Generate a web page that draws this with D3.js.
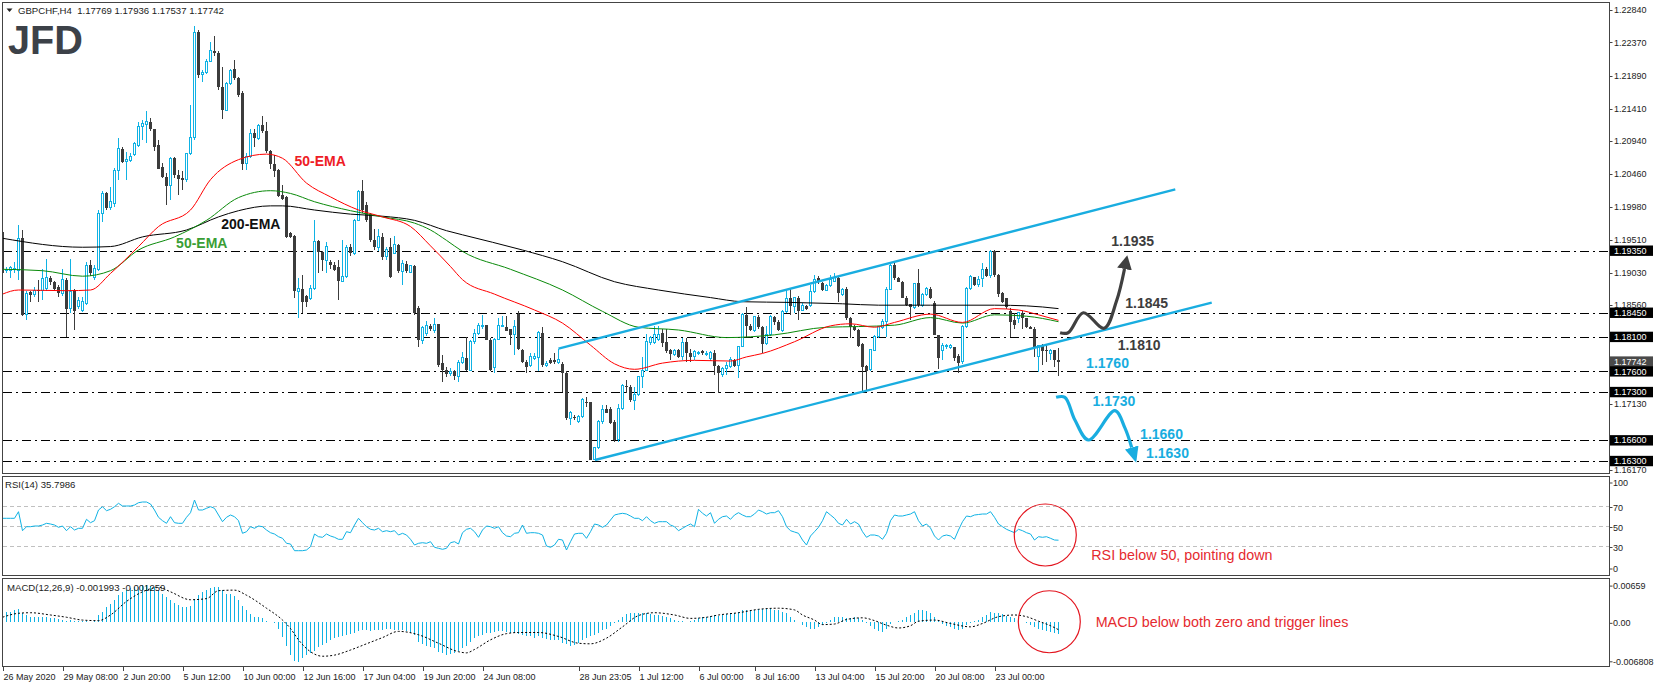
<!DOCTYPE html>
<html><head><meta charset="utf-8">
<script src="https://cdn.jsdelivr.net/npm/d3@7/dist/d3.min.js"></script>
<style>
body{margin:0;background:#fff;}
svg{display:block;font-family:"Liberation Sans",Arial,sans-serif;}
</style></head><body>
<svg id="chart" width="1655" height="688"></svg>
<script>
// ---------------- DATA ----------------
const symbolTitle = "GBPCHF,H4  1.17769 1.17936 1.17537 1.17742";
const opens = [
1.1962,1.1908,1.1906,1.1909,1.1907,1.1953,1.1843,1.1875,1.1871,1.1878,
1.1878,1.1880,1.1896,1.1889,1.1882,1.1873,1.1893,1.1851,1.1878,1.1854,
1.1849,1.1859,1.1914,1.1896,1.1908,1.1989,1.2018,1.1997,1.2004,1.2052,
1.2083,1.2064,1.2066,1.2074,1.2088,1.2115,1.2118,1.2122,1.2111,1.2088,
1.2056,1.2042,1.2029,1.2069,1.2045,1.2040,1.2038,1.2076,1.2099,1.2252,
1.2190,1.2193,1.2210,1.2225,1.2222,1.2173,1.2139,1.2178,1.2199,1.2185,
1.2164,1.2061,1.2071,1.2106,1.2098,1.2117,1.2108,1.2080,1.2061,1.2052,
1.2016,1.2013,1.1960,1.1956,1.1876,1.1880,1.1869,1.1866,1.1880,1.1949,
1.1933,1.1921,1.1918,1.1914,1.1911,1.1891,1.1898,1.1940,1.1931,1.1979,
1.2021,1.2001,1.1988,1.1951,1.1940,1.1955,1.1926,1.1941,1.1931,1.1943,
1.1905,1.1916,1.1904,1.1913,1.1852,1.1805,1.1815,1.1826,1.1820,1.1828,
1.1772,1.1762,1.1757,1.1760,1.1753,1.1773,1.1780,1.1762,1.1803,1.1815,
1.1825,1.1827,1.1806,1.1766,1.1806,1.1825,1.1825,1.1821,1.1813,1.1843,
1.1791,1.1774,1.1768,1.1779,1.1780,1.1816,1.1769,1.1776,1.1776,1.1773,
1.1771,1.1758,1.1692,1.1694,1.1687,1.1695,1.1716,1.1716,1.1632,1.1649,
1.1687,1.1705,1.1706,1.1687,1.1661,1.1706,1.1739,1.1738,1.1718,1.1727,
1.1752,1.1762,1.1802,1.1802,1.1806,1.1815,1.1802,1.1791,1.1785,1.1791,
1.1781,1.1802,1.1787,1.1781,1.1787,1.1789,1.1786,1.1778,1.1787,1.1768,
1.1755,1.1764,1.1767,1.1776,1.1769,1.1796,1.1842,1.1826,1.1819,1.1839,
1.1825,1.1800,1.1813,1.1839,1.1832,1.1820,1.1847,1.1866,1.1854,1.1867,
1.1849,1.1855,1.1855,1.1876,1.1895,1.1888,1.1878,1.1884,1.1891,1.1896,
1.1871,1.1880,1.1837,1.1825,1.1820,1.1799,1.1768,1.1763,1.1791,1.1810,
1.1824,1.1832,1.1879,1.1914,1.1895,1.1890,1.1867,1.1857,1.1852,1.1888,
1.1855,1.1871,1.1880,1.1859,1.1813,1.1790,1.1797,1.1795,1.1795,1.1783,
1.1774,1.1825,1.1880,1.1897,1.1886,1.1895,1.1908,1.1899,1.1934,1.1900,
1.1874,1.1866,1.1847,1.1834,1.1837,1.1844,1.1837,1.1825,1.1822,1.1781,
1.1798,1.1791,1.1786,1.1791,1.17769];
const highs = [
1.1964,1.1912,1.1913,1.1919,1.1972,1.1965,1.1876,1.1876,1.1883,1.1892,
1.1908,1.1923,1.1899,1.1891,1.1885,1.1908,1.1895,1.1923,1.1880,1.1868,
1.1868,1.1919,1.1921,1.1914,1.1994,1.2021,1.2020,1.2028,1.2055,1.2098,
1.2086,1.2078,1.2076,1.2092,1.2122,1.2125,1.2137,1.2128,1.2111,1.2095,
1.2062,1.2047,1.2071,1.2071,1.2052,1.2050,1.2077,1.2146,1.2261,1.2255,
1.2197,1.2213,1.2237,1.2246,1.2224,1.2202,1.2180,1.2198,1.2211,1.2187,
1.2166,1.2077,1.2112,1.2112,1.2119,1.2130,1.2122,1.2081,1.2074,1.2053,
1.2030,1.2014,1.1962,1.1958,1.1896,1.1900,1.1871,1.1885,1.1979,1.1951,
1.1935,1.1948,1.1921,1.1918,1.1921,1.1951,1.1943,1.1945,1.1981,1.2023,
1.2038,1.2006,1.1990,1.1967,1.1967,1.1960,1.1940,1.1953,1.1956,1.1945,
1.1922,1.1920,1.1914,1.1914,1.1855,1.1826,1.1833,1.1829,1.1838,1.1828,
1.1784,1.1766,1.1765,1.1762,1.1776,1.1788,1.1810,1.1805,1.1822,1.1830,
1.1842,1.1827,1.1808,1.1808,1.1838,1.1840,1.1840,1.1822,1.1834,1.1848,
1.1793,1.1776,1.1786,1.1786,1.1819,1.1824,1.1775,1.1780,1.1786,1.1793,
1.1773,1.1760,1.1702,1.1697,1.1697,1.1721,1.1723,1.1716,1.1651,1.1689,
1.1711,1.1711,1.1708,1.1690,1.1712,1.1742,1.1748,1.1740,1.1738,1.1754,
1.1781,1.1814,1.1812,1.1826,1.1826,1.1821,1.1822,1.1793,1.1793,1.1793,
1.1808,1.1808,1.1793,1.1791,1.1790,1.1791,1.1789,1.1790,1.1791,1.1769,
1.1767,1.1774,1.1781,1.1778,1.1797,1.1845,1.1853,1.1828,1.1841,1.1842,
1.1826,1.1826,1.1842,1.1840,1.1834,1.1849,1.1880,1.1879,1.1868,1.1869,
1.1859,1.1856,1.1885,1.1900,1.1898,1.1889,1.1886,1.1900,1.1902,1.1898,
1.1881,1.1882,1.1839,1.1827,1.1821,1.1801,1.1769,1.1793,1.1813,1.1826,
1.1836,1.1883,1.1917,1.1917,1.1897,1.1891,1.1869,1.1858,1.1888,1.1908,
1.1873,1.1883,1.1882,1.1862,1.1813,1.1801,1.1800,1.1800,1.1796,1.1785,
1.1827,1.1882,1.1900,1.1897,1.1898,1.1917,1.1912,1.1936,1.1936,1.1901,
1.1875,1.1867,1.1852,1.1844,1.1846,1.1847,1.1838,1.1826,1.1825,1.1798,
1.1800,1.1798,1.1793,1.1791,1.17936];
const lows = [
1.1900,1.1902,1.1896,1.1902,1.1893,1.1840,1.1834,1.1861,1.1868,1.1861,
1.1864,1.1876,1.1885,1.1878,1.1868,1.1869,1.1810,1.1844,1.1820,1.1850,
1.1846,1.1856,1.1898,1.1893,1.1905,1.1977,1.1994,1.1994,1.1999,1.2038,
1.2062,1.2038,1.2063,1.2072,1.2086,1.2095,1.2091,1.2109,1.2080,1.2053,
1.2041,1.2001,1.2008,1.2040,1.2016,1.2023,1.2034,1.2074,1.2095,1.2185,
1.2180,1.2191,1.2208,1.2218,1.2168,1.2126,1.2137,1.2175,1.2183,1.2158,
1.2052,1.2052,1.2069,1.2086,1.2096,1.2105,1.2076,1.2054,1.2042,1.2013,
1.2008,1.1953,1.1953,1.1866,1.1837,1.1844,1.1854,1.1863,1.1878,1.1902,
1.1905,1.1902,1.1908,1.1906,1.1863,1.1890,1.1896,1.1928,1.1929,1.1978,
1.1989,1.1977,1.1948,1.1936,1.1935,1.1922,1.1922,1.1895,1.1930,1.1902,
1.1885,1.1903,1.1902,1.1842,1.1795,1.1800,1.1812,1.1818,1.1815,1.1767,
1.1745,1.1752,1.1754,1.1748,1.1745,1.1771,1.1760,1.1760,1.1800,1.1813,
1.1822,1.1805,1.1760,1.1757,1.1805,1.1824,1.1818,1.1798,1.1784,1.1791,
1.1772,1.1758,1.1767,1.1776,1.1761,1.1767,1.1766,1.1770,1.1770,1.1770,
1.1730,1.1690,1.1682,1.1690,1.1685,1.1692,1.1709,1.1631,1.1631,1.1647,
1.1684,1.1699,1.1683,1.1657,1.1657,1.1704,1.1728,1.1716,1.1704,1.1725,
1.1736,1.1760,1.1798,1.1800,1.1804,1.1796,1.1786,1.1777,1.1783,1.1779,
1.1776,1.1773,1.1774,1.1776,1.1784,1.1784,1.1783,1.1775,1.1755,1.1728,
1.1752,1.1755,1.1765,1.1767,1.1750,1.1795,1.1810,1.1818,1.1817,1.1822,
1.1786,1.1798,1.1811,1.1827,1.1819,1.1817,1.1845,1.1842,1.1844,1.1835,
1.1848,1.1849,1.1853,1.1873,1.1887,1.1877,1.1876,1.1883,1.1890,1.1861,
1.1869,1.1835,1.1809,1.1818,1.1795,1.1728,1.1733,1.1760,1.1790,1.1809,
1.1822,1.1810,1.1878,1.1893,1.1889,1.1866,1.1855,1.1835,1.1851,1.1853,
1.1853,1.1869,1.1865,1.1813,1.1764,1.1777,1.1793,1.1792,1.1775,1.1758,
1.1771,1.1823,1.1878,1.1884,1.1883,1.1883,1.1897,1.1896,1.1897,1.1868,
1.1859,1.1851,1.1810,1.1822,1.1830,1.1822,1.1823,1.1821,1.1781,1.1759,
1.1769,1.1774,1.1776,1.1767,1.17537];
const closes = [
1.1902,1.1908,1.1910,1.1909,1.1953,1.1842,1.1873,1.1871,1.1878,1.1877,
1.1894,1.1896,1.1889,1.1880,1.1873,1.1893,1.1851,1.1876,1.1847,1.1863,
1.1861,1.1914,1.1902,1.1909,1.1989,1.2018,1.1997,1.2006,1.2052,1.2083,
1.2064,1.2067,1.2072,1.2090,1.2115,1.2119,1.2122,1.2111,1.2086,1.2054,
1.2042,1.2029,1.2069,1.2045,1.2039,1.2038,1.2076,1.2099,1.2251,1.2190,
1.2193,1.2210,1.2226,1.2221,1.2173,1.2139,1.2178,1.2197,1.2185,1.2161,
1.2061,1.2071,1.2105,1.2098,1.2116,1.2108,1.2080,1.2061,1.2051,1.2014,
1.2010,1.1955,1.1955,1.1876,1.1880,1.1861,1.1861,1.1880,1.1949,1.1933,
1.1921,1.1941,1.1914,1.1907,1.1891,1.1898,1.1940,1.1931,1.1979,1.2021,
1.1994,1.1979,1.1950,1.1941,1.1955,1.1926,1.1937,1.1897,1.1944,1.1905,
1.1916,1.1905,1.1913,1.1844,1.1805,1.1823,1.1826,1.1822,1.1828,1.1769,
1.1762,1.1756,1.1760,1.1753,1.1773,1.1780,1.1762,1.1803,1.1815,1.1826,
1.1827,1.1806,1.1762,1.1806,1.1826,1.1827,1.1819,1.1813,1.1825,1.1792,
1.1773,1.1767,1.1781,1.1782,1.1816,1.1769,1.1772,1.1772,1.1773,1.1777,
1.1757,1.1693,1.1700,1.1692,1.1695,1.1719,1.1715,1.1632,1.1649,1.1687,
1.1705,1.1700,1.1685,1.1661,1.1706,1.1739,1.1737,1.1718,1.1727,1.1752,
1.1762,1.1803,1.1809,1.1813,1.1813,1.1801,1.1789,1.1785,1.1791,1.1781,
1.1802,1.1787,1.1781,1.1789,1.1788,1.1786,1.1786,1.1787,1.1768,1.1757,
1.1764,1.1768,1.1777,1.1768,1.1796,1.1842,1.1826,1.1820,1.1839,1.1825,
1.1800,1.1814,1.1839,1.1832,1.1820,1.1847,1.1866,1.1855,1.1867,1.1848,
1.1855,1.1850,1.1876,1.1893,1.1889,1.1878,1.1884,1.1893,1.1896,1.1873,
1.1879,1.1837,1.1825,1.1820,1.1797,1.1767,1.1761,1.1792,1.1810,1.1825,
1.1832,1.1879,1.1914,1.1895,1.1890,1.1866,1.1856,1.1853,1.1887,1.1856,
1.1871,1.1880,1.1867,1.1813,1.1779,1.1797,1.1797,1.1798,1.1780,1.1772,
1.1825,1.1880,1.1897,1.1885,1.1893,1.1908,1.1899,1.1934,1.1900,1.1872,
1.1861,1.1854,1.1832,1.1827,1.1845,1.1837,1.1825,1.1822,1.1796,1.1797,
1.1790,1.1789,1.1791,1.1776,1.17742];

// moving averages ([bar index, value])
const ema50Red = [[0,1.1872],[4,1.1878],[16,1.1877],[22,1.1878],[27,1.1902],[34,1.1941],[39,1.1970],[47,1.1994],[52,1.2038],[59,1.2067],[66,1.2075],[70,1.2069],[76,1.2033],[82,1.2013],[89,1.1994],[95,1.1984],[102,1.1970],[107,1.1942],[112,1.1912],[115,1.1893],[123,1.1872],[133,1.1849],[140,1.1830],[147,1.1798],[153,1.1771],[158,1.1763],[165,1.1772],[173,1.1776],[182,1.1775],[186,1.1781],[190,1.1786],[198,1.1803],[207,1.1826],[212,1.1829],[218,1.1824],[223,1.1831],[232,1.1843],[240,1.1831],[248,1.1851],[254,1.1849],[259,1.1842],[264,1.1834]];
const emaGreen = [[0,1.1908],[10,1.1906],[20,1.1898],[27,1.1906],[34,1.1936],[43,1.1955],[51,1.1979],[59,1.2012],[67,1.2022],[72,1.2018],[78,1.2006],[87,1.1993],[95,1.1984],[103,1.1975],[107,1.1965],[111,1.1950],[115,1.1934],[127,1.1908],[140,1.1878],[150,1.1847],[159,1.1824],[169,1.1820],[181,1.1809],[193,1.1813],[206,1.1824],[214,1.1825],[223,1.1827],[232,1.1838],[240,1.1830],[248,1.1842],[256,1.1840],[264,1.1832]];
const ema200 = [[0,1.1953],[20,1.1940],[27,1.1941],[35,1.1955],[46,1.1965],[54,1.1984],[59,1.1993],[67,1.2000],[70,1.2000],[78,1.1994],[87,1.1988],[95,1.1985],[103,1.1979],[111,1.1964],[115,1.1958],[130,1.1936],[140,1.1919],[153,1.1890],[164,1.1878],[177,1.1867],[185,1.1861],[197,1.1860],[210,1.1858],[219,1.1856],[232,1.1856],[248,1.1856],[256,1.1855],[264,1.1851]];

const rsi = [
57.7,57.7,57.7,57.7,64.3,45.3,49.3,49.3,50,50,
51,52.7,52,51,48.7,50,45.3,49.3,46,47.7,
47.7,56.7,53.3,55.3,66,69.3,65.3,66.7,69.3,72.7,
70,70,70,71,73.3,74,74,72,66,58.7,
55.3,52.7,59.3,53.3,52.7,52.7,58.7,63.3,76,66,
66,67.7,69.3,67.7,61,54.3,58.7,61,59.3,55.3,
42.7,44.3,49.3,47.7,50,49.3,46,43.3,42,39.3,
37.7,32.7,32,25.3,25.3,25.3,26,29.3,42,39.3,
38.7,42,40,38.7,36.7,36.7,44.3,43.3,51,57.7,
53.3,49.3,46.7,46,47.7,44.3,45.3,44.3,45.3,41,
42.7,41,36.7,31,32.7,33.3,32.7,34.3,28.7,27.7,
26.7,27.7,33.3,34.3,32,43.3,46.7,47.7,44.3,38.7,
46,50,49.3,47.7,49.3,43.3,40,39.3,42.7,43.3,
51,42.7,43.3,43.3,42.7,41,30,28.7,31,36.7,
36,26,34.3,42,42.7,42.7,37.7,44.3,52,51,
48.7,51,56,61,62,62.7,62,60,57.7,57.7,
55.3,59.3,55.3,52.7,54.3,54.3,54.3,51,49.3,45.3,
47.7,50,52,49.3,66.7,62.7,60,63.3,52.7,56.7,
59.3,60,56.7,61,63.3,61,59.3,59.3,62,66,
64.3,62,63.3,63.3,65.3,59.3,49.3,45.3,44,42.7,
36,31,40,44.3,48.7,55.3,64.3,61,57.7,52.7,
51,56.7,52,54.3,52,44.3,38.7,41,41,40,
36.7,42.7,55.3,61,60,60,61,62,64.3,55.3,
50,52,48,40,36,40,41,40,36.7,46,
54.3,60,59.3,61,61.5,62,62,64.3,58.7,52,
49.3,46.7,45,43.3,46.7,45.3,43.3,42,36,39.3,
38.7,39.3,37.7,36,35.8];
const rsiLevels = [70,50,30];

const macdHist = [
.0019,.0019,.0019,.0022,.0024,.0017,.0013,.0009,.0009,.0009,
.0009,.0010,.0007,.0007,.0006,.0005,.0003,.0004,.0003,.0003,
.0003,.0002,.0001,.0002,.0013,.0019,.0027,.0032,.0040,.0048,
.0053,.0057,.0060,.0062,.0063,.0066,.0066,.0064,.0062,.0058,
.0051,.0045,.0040,.0035,.0031,.0028,.0027,.0029,.0042,.0048,
.0054,.0058,.0060,.0062,.0062,.0058,.0051,.0050,.0047,.0040,
.0029,.0022,.0015,.0010,.0009,.0007,.0003,.0001,-.0002,-.0012,
-.0026,-.0042,-.0058,-.0068,-.0070,-.0064,-.0058,-.0054,-.0050,-.0044,
-.0040,-.0036,-.0031,-.0027,-.0026,-.0024,-.0022,-.0021,-.0019,-.0016,
-.0014,-.0014,-.0015,-.0014,-.0013,-.0013,-.0012,-.0012,-.0013,-.0014,
-.0014,-.0015,-.0018,-.0022,-.0034,-.0038,-.0042,-.0044,-.0046,-.0052,
-.0055,-.0058,-.0056,-.0054,-.0050,-.0046,-.0042,-.0034,-.0028,-.0025,
-.0022,-.0019,-.0018,-.0017,-.0015,-.0015,-.0017,-.0018,-.0019,-.0021,
-.0022,-.0024,-.0025,-.0027,-.0025,-.0028,-.0030,-.0031,-.0031,-.0032,
-.0036,-.0038,-.0042,-.0040,-.0036,-.0032,-.0028,-.0025,-.0022,-.0018,
-.0014,-.0011,-.0006,-.0002,.0004,.0010,.0015,.0016,.0017,.0017,
.0016,.0016,.0015,.0013,.0013,.0011,.0010,.0007,.0004,.0003,
.0003,.0001,.0003,.0004,.0007,.0009,.0010,.0011,.0013,.0011,
.0013,.0015,.0016,.0017,.0019,.0021,.0022,.0022,.0022,.0023,
.0023,.0023,.0023,.0022,.0022,.0019,.0016,.0010,.0005,.0001,
-.0005,-.0008,-.0011,-.0012,-.0009,-.0005,-.0001,.0005,.0009,.0009,
.0009,.0007,.0007,.0010,.0007,.0004,-.0001,-.0006,-.0011,-.0015,
-.0017,-.0011,-.0003,.0001,.0003,.0005,.0009,.0013,.0017,.0021,
.0021,.0020,.0016,.0010,.0003,-.0003,-.0006,-.0008,-.0012,-.0014,
-.0011,-.0005,-.0001,.0003,.0005,.0010,.0013,.0019,.0017,.0017,
.0015,.0011,.0009,.0007,.0004,.0001,-.0002,-.0005,-.0008,-.0012,
-.0014,-.0015,-.0017,-.0018,-.0020];
const macdSignal = [[0,.0009],[4,.0016],[7,.0017],[12,.0013],[16,.0009],[20,.0004],[24,.0003],[27,.0013],[31,.0037],[35,.0054],[39,.0062],[42,.0054],[47,.0040],[51,.0042],[54,.0056],[58,.0057],[61,.0048],[66,.0025],[70,.0004],[72,-.0011],[74,-.0031],[77,-.0052],[80,-.0060],[83,-.0058],[87,-.0049],[91,-.0038],[95,-.0027],[99,-.0016],[104,-.0022],[109,-.0037],[114,-.0052],[116,-.0054],[118,-.0048],[122,-.0031],[126,-.0020],[129,-.0018],[134,-.0018],[139,-.0025],[144,-.0037],[147,-.0038],[151,-.0028],[155,-.0008],[159,.0012],[163,.0017],[168,.0013],[172,.0007],[176,.0009],[179,.0013],[184,.0017],[189,.0023],[194,.0025],[198,.0022],[200,.0013],[203,.0004],[205,-.0004],[208,-.0003],[211,.0005],[215,.0008],[218,.0003],[221,-.0005],[224,-.0010],[227,-.0006],[229,.0002],[233,.0004],[237,-.0002],[242,-.0008],[245,-.0002],[249,.0010],[253,.0013],[256,.0010],[259,.0002],[262,-.0006],[264,-.0013]];

// visible price-axis ticks (the ones under the level boxes are hidden in the original)
const priceTicks = [1.22840,1.22370,1.21890,1.21410,1.20940,1.20460,1.19980,1.19510,1.19030,1.18560,1.17130,1.16170];
const levelPrices = [1.1935,1.1845,1.1810,1.1760,1.1730,1.1660,1.1630];
const lastPrice = 1.17742;
const timeIdx = [0,15,30,45,60,75,90,105,120,144,159,174,188,203,218,233,248];
const timeLabels = ["26 May 2020","29 May 08:00","2 Jun 20:00","5 Jun 12:00","10 Jun 00:00","12 Jun 16:00","17 Jun 04:00","19 Jun 20:00","24 Jun 08:00","28 Jun 23:05","1 Jul 12:00","6 Jul 00:00","8 Jul 16:00","13 Jul 04:00","15 Jul 20:00","20 Jul 08:00","23 Jul 00:00"];
const rsiAxis = [100,70,50,30,0];
const macdAxis = [0.00659,0,-0.006808];
const macdAxisText = ["0.00659","0.00","-0.006808"];

// channel & annotation anchors: [bar index, price]
const channelUpper = [[139,1.1793],[293.2,1.2024]];
const channelLower = [[148.1,1.16315],[302.3,1.18596]];
const upArrow = [[264.4,1.1816],[266.4,1.1816],[270.2,1.1845],[275.4,1.18225],[278.5,1.1862],[280.5,1.19085]];
const downArrow = [[263.4,1.17224],[265.6,1.17224],[268.1,1.16895],[271.5,1.16605],[278.1,1.1703],[280.6,1.1678],[282.3,1.16496]];
const levelNotes = [
 {t:"1.1935",i:277.2,p:1.19495,dark:true},
 {t:"1.1845",i:280.7,p:1.18587,dark:true},
 {t:"1.1810",i:278.8,p:1.17982,dark:true},
 {t:"1.1760",i:270.9,p:1.17726,dark:false},
 {t:"1.1730",i:272.5,p:1.17170,dark:false},
 {t:"1.1660",i:284.4,p:1.16687,dark:false},
 {t:"1.1630",i:285.9,p:1.16412,dark:false}];
const emaNotes = [
 {t:"50-EMA",i:73,p:1.20655,c:"#ee1c25"},
 {t:"200-EMA",i:54.7,p:1.19737,c:"#111111"},
 {t:"50-EMA",i:43.4,p:1.19457,c:"#3a9e36"}];

// ---------------- SCALES ----------------
const BULL="#0fb2e4", BEAR="#3c3c3c", CYAN="#19ade0";
const svg = d3.select("#chart");
const x = d3.scaleLinear().domain([0,1]).range([2.5,6.5]);
const y = d3.scaleLinear().domain([1.2284,1.1617]).range([10,470]);
const yR = d3.scaleLinear().domain([100,0]).range([476,576]);
const yM = d3.scaleLinear().domain([0.00659,-0.006808]).range([585.1,660.8]);
const L=2.5, R=1609.5;

const defs = svg.append("defs");
defs.append("clipPath").attr("id","cm").append("rect").attr("x",3).attr("y",3).attr("width",1606).attr("height",470);
defs.append("clipPath").attr("id","cr").append("rect").attr("x",3).attr("y",477).attr("width",1606).attr("height",98);
defs.append("clipPath").attr("id","cq").append("rect").attr("x",3).attr("y",579).attr("width",1606).attr("height",87);
function marker(id,col,len,wid){
  defs.append("marker").attr("id",id).attr("viewBox","0 0 10 10").attr("refX",0).attr("refY",5)
    .attr("markerWidth",len).attr("markerHeight",wid).attr("markerUnits","userSpaceOnUse")
    .attr("orient","auto").attr("preserveAspectRatio","none")
    .append("path").attr("d","M0,0L10,5L0,10z").attr("fill",col);
}
marker("mg","#404040",14,15);
marker("mc",CYAN,16,14);

svg.append("rect").attr("width",1655).attr("height",688).attr("fill","#fff");

// ---------------- MAIN PANEL ----------------
const gM = svg.append("g").attr("clip-path","url(#cm)");
gM.selectAll("line.lvl").data(levelPrices).join("line")
  .attr("x1",3).attr("x2",1609).attr("y1",d=>Math.round(y(d))+0.5).attr("y2",d=>Math.round(y(d))+0.5)
  .attr("stroke","#000").attr("stroke-width",1).attr("stroke-dasharray","9,4,2,4");

const idx = d3.range(opens.length);
const cg = gM.append("g").attr("shape-rendering","crispEdges");
cg.selectAll("line").data(idx).join("line")
  .attr("x1",i=>x(i)).attr("x2",i=>x(i))
  .attr("y1",i=>y(highs[i])).attr("y2",i=>y(lows[i]))
  .attr("stroke",i=>closes[i]>=opens[i]?BULL:BEAR);
cg.selectAll("rect").data(idx).join("rect")
  .attr("x",i=>closes[i]>=opens[i]?x(i)-1:x(i)-1.5)
  .attr("width",i=>closes[i]>=opens[i]?2:3)
  .attr("y",i=>y(Math.max(opens[i],closes[i])))
  .attr("height",i=>Math.max(1,Math.abs(y(opens[i])-y(closes[i]))))
  .attr("fill",i=>closes[i]>=opens[i]?"#fff":BEAR)
  .attr("stroke",i=>closes[i]>=opens[i]?BULL:"none");

const lineP = d3.line().x(d=>x(d[0])).y(d=>y(d[1])).curve(d3.curveMonotoneX);
[[ema200,"#000"],[emaGreen,"#0a8a0a"],[ema50Red,"#ff0000"]].forEach(([d,c])=>{
  gM.append("path").attr("d",lineP(d)).attr("fill","none").attr("stroke",c).attr("stroke-width",1);
});
const lineS = d3.line().x(d=>x(d[0])).y(d=>y(d[1]));
[channelUpper,channelLower].forEach(d=>{
  gM.append("path").attr("d",lineS(d)).attr("stroke",CYAN).attr("stroke-width",2.4).attr("fill","none");
});
const lineC = d3.line().x(d=>x(d[0])).y(d=>y(d[1])).curve(d3.curveCatmullRom.alpha(0.5));
gM.append("path").attr("d",lineC(upArrow)).attr("fill","none").attr("stroke","#404040").attr("stroke-width",3.2).attr("marker-end","url(#mg)");
gM.append("path").attr("d",lineC(downArrow)).attr("fill","none").attr("stroke",CYAN).attr("stroke-width",3.2).attr("marker-end","url(#mc)");

gM.selectAll("text.lv").data(levelNotes).join("text")
  .attr("x",d=>x(d.i)).attr("y",d=>y(d.p)).attr("dy","0.36em")
  .attr("font-size",14).attr("font-weight","bold")
  .attr("fill",d=>d.dark?"#3d3d3d":CYAN).text(d=>d.t);
gM.selectAll("text.em").data(emaNotes).join("text")
  .attr("x",d=>x(d.i)).attr("y",d=>y(d.p)).attr("dy","0.36em")
  .attr("font-size",14).attr("font-weight","bold").attr("fill",d=>d.c).text(d=>d.t);

// header + logo
svg.append("path").attr("d","M6.5,8.5L12.5,8.5L9.5,12z").attr("fill","#222");
svg.append("text").attr("x",18).attr("y",14).attr("font-size",9.6).attr("fill","#222").attr("xml:space","preserve").text(symbolTitle);
svg.append("text").attr("x",8).attr("y",53.5).attr("font-size",41).attr("font-weight","bold")
  .attr("fill","#3c4148").attr("textLength",75).attr("lengthAdjust","spacingAndGlyphs").text("JFD");

// ---------------- RSI PANEL ----------------
const gR = svg.append("g").attr("clip-path","url(#cr)");
gR.selectAll("line").data(rsiLevels).join("line")
  .attr("x1",3).attr("x2",1609).attr("y1",d=>yR(d)+0.5).attr("y2",d=>yR(d)+0.5)
  .attr("stroke","#c0c0c0").attr("stroke-dasharray","4,3");
gR.append("path").attr("d",d3.line().x((d,i)=>x(i)).y(d=>yR(d))(rsi))
  .attr("fill","none").attr("stroke",BULL).attr("stroke-width",1);
svg.append("text").attr("x",5).attr("y",488).attr("font-size",9.6).attr("fill","#222").text("RSI(14) 35.7986");

// ---------------- MACD PANEL ----------------
const gQ = svg.append("g").attr("clip-path","url(#cq)");
gQ.append("g").attr("shape-rendering","crispEdges").selectAll("rect").data(macdHist).join("rect")
  .attr("x",(d,i)=>x(i)-0.5).attr("width",1)
  .attr("y",d=>Math.min(yM(d),yM(0))).attr("height",d=>Math.max(0.5,Math.abs(yM(d)-yM(0))))
  .attr("fill",BULL);
gQ.append("path").attr("d",d3.line().x(d=>x(d[0])).y(d=>yM(d[1])).curve(d3.curveMonotoneX)(macdSignal))
  .attr("fill","none").attr("stroke","#000").attr("stroke-width",1).attr("stroke-dasharray","2,2");
svg.append("text").attr("x",7).attr("y",590.5).attr("font-size",9.6).attr("fill","#222").text("MACD(12,26,9) -0.001993 -0.001259");

// circles + notes
const circ = [{i:260.7,v:41,sc:yR},{i:261.7,v:0.0001,sc:yM}];
circ.forEach(c=>{
  svg.append("circle").attr("cx",x(c.i)).attr("cy",c.sc(c.v)).attr("r",31)
    .attr("fill","none").attr("stroke","#e3141e").attr("stroke-width",1.2);
});
svg.append("text").attr("x",x(272.2)).attr("y",yR(21)).attr("dy","0.35em").attr("font-size",14.3).attr("fill","#e52a2f").text("RSI below 50, pointing down");
svg.append("text").attr("x",x(273.3)).attr("y",yM(0)).attr("dy","0.35em").attr("font-size",14.3).attr("fill","#e52a2f").text("MACD below both zero and trigger lines");

// ---------------- FRAMES ----------------
const fr = svg.append("g").attr("fill","none").attr("stroke","#444").attr("stroke-width",1).attr("shape-rendering","crispEdges");
fr.append("rect").attr("x",L).attr("y",2.5).attr("width",R-L).attr("height",471);
fr.append("rect").attr("x",L).attr("y",476.5).attr("width",R-L).attr("height",99);
fr.append("rect").attr("x",L).attr("y",578.5).attr("width",R-L).attr("height",88);

// ---------------- AXES ----------------
const ax = svg.append("g").attr("font-size",9).attr("fill","#222");
priceTicks.forEach(p=>{
  const yy=Math.round(y(p))+0.5;
  ax.append("line").attr("x1",R).attr("x2",R+3).attr("y1",yy).attr("y2",yy).attr("stroke","#444");
  ax.append("text").attr("x",1614).attr("y",y(p)).attr("dy","0.35em").text(p.toFixed(5));
});
function box(p,fill){
  const yy=y(p);
  ax.append("rect").attr("x",1610).attr("y",yy-5.2).attr("width",43).attr("height",10.4).attr("fill",fill);
  ax.append("text").attr("x",1614).attr("y",yy).attr("dy","0.35em").attr("fill","#fff").text(p.toFixed(5));
}
box(lastPrice,"#4a4a4a");
levelPrices.forEach(p=>box(p,"#000"));

rsiAxis.forEach(v=>{
  const yy = v===100? yR(v)+7 : (v===0? yR(v)-7 : yR(v)+1.5);
  ax.append("line").attr("x1",R).attr("x2",R+3).attr("y1",yy).attr("y2",yy).attr("stroke","#444");
  ax.append("text").attr("x",1613).attr("y",yy).attr("dy","0.35em").text(v);
});
macdAxis.forEach((v,k)=>{
  const yy=yM(v)+1;
  ax.append("line").attr("x1",R).attr("x2",R+3).attr("y1",yy).attr("y2",yy).attr("stroke","#444");
  ax.append("text").attr("x",1613).attr("y",yy).attr("dy","0.35em").text(macdAxisText[k]);
});
timeIdx.forEach((ti,k)=>{
  const xx=Math.round(x(ti))+0.5;
  ax.append("line").attr("x1",xx).attr("x2",xx).attr("y1",667).attr("y2",671).attr("stroke","#444");
  ax.append("text").attr("x",xx).attr("y",679.5).text(timeLabels[k]);
});
</script>
</body></html>
